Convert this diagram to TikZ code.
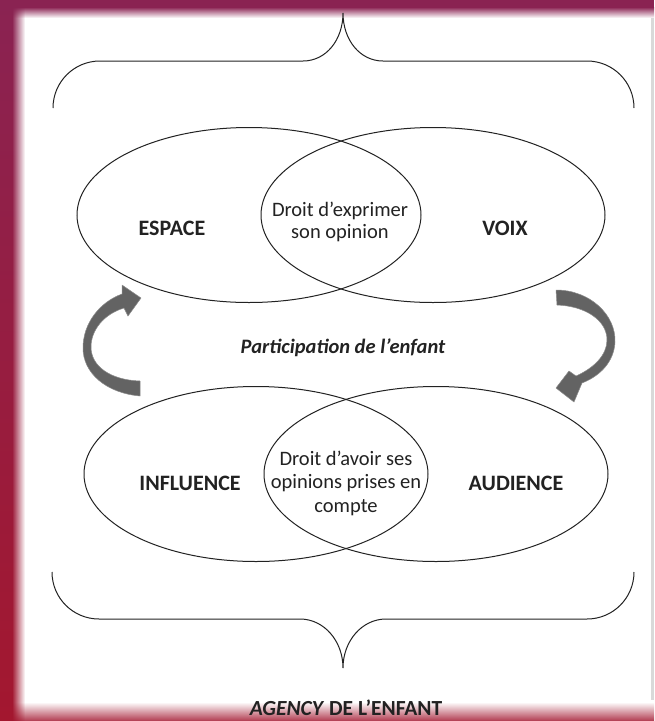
\documentclass[tikz,border=0pt]{standalone}
\usepackage{fontspec}
\setmainfont{Carlito}
\usetikzlibrary{shapes.geometric,fadings}
\definecolor{framea}{HTML}{8A2352}
\definecolor{frameb}{HTML}{A3172F}
\definecolor{ink}{HTML}{222222}
\definecolor{arrowfill}{HTML}{636363}
\definecolor{arrowedge}{HTML}{8C8C8C}
\tikzset{
  venn/.style={ellipse, draw=ink, line width=1pt, minimum width=344pt, minimum height=175pt, inner sep=0pt},
  bigword/.style={font=\bfseries\fontsize{22}{24}\selectfont, text=ink, inner sep=0pt},
  midtext/.style={font=\fontsize{20.5}{22}\selectfont, text=ink, align=center, inner sep=0pt},
  bracepath/.style={draw=ink, line width=1pt},
  cyclearrow/.style={fill=arrowfill, draw=arrowedge, line width=0.5pt, line join=round},
}
\begin{document}
\begin{tikzpicture}[x=1pt,y=-1pt]
\useasboundingbox (0,0) rectangle (654,721);
\fill[white] (0,0) rectangle (654,721);
% frame
\fill[framea] (0,0) rectangle (654,7);
\shade[top color=framea, bottom color=white] (0,7) rectangle (654,18);
\shade[top color=white, bottom color=frameb!85] (0,702) rectangle (654,721);
\shade[top color=framea, bottom color=frameb] (0,0) rectangle (12,721);
\shade[top color=framea, bottom color=frameb, path fading=east] (12,0) rectangle (25,721);
\fill[black!15] (651,18) rectangle (654,700);
% top brace
\coordinate (tl) at (53,108);
\coordinate (tt) at (343,13);
\coordinate (tr) at (634,108);
\draw[bracepath] (tl) .. controls (53,82) and (74,61) .. (100,61) -- (303,61)
  .. controls (326,61) and (343,40) .. (tt)
  .. controls (343,40) and (360,61) .. (383,61) -- (587,61)
  .. controls (613,61) and (634,82) .. (tr);
% bottom brace
\coordinate (bl) at (52,572);
\coordinate (bt) at (343,668);
\coordinate (br) at (634,572);
\draw[bracepath] (bl) .. controls (52,598) and (73,619) .. (99,619) -- (300,619)
  .. controls (324,619) and (343,641) .. (bt)
  .. controls (343,641) and (362,619) .. (386,619) -- (587,619)
  .. controls (613,619) and (634,598) .. (br);
% ellipses
\node[venn] (espace) at (249,215) {};
\node[venn] (voix) at (433,215) {};
\node[venn] (influence) at (256,474) {};
\node[venn] (audience) at (436,474) {};
% labels
\node[bigword] (lespace) at (172,228) {ESPACE};
\node[bigword] (lvoix) at (505,228) {VOIX};
\node[midtext] (exprimer) at (340,222) {Droit d’exprimer\\son opinion};
\node[bigword] (linfluence) at (190,483) {INFLUENCE};
\node[bigword] (laudience) at (516,483) {AUDIENCE};
\node[midtext, font=\fontsize{20.5}{23.5}\selectfont] (avoir) at (346,483) {Droit d’avoir ses\\opinions prises en\\compte};
\node[font=\bfseries\itshape\fontsize{20.5}{22}\selectfont, text=ink] (participation) at (343,348) {Participation de l’enfant};
\node[font=\bfseries\fontsize{21.5}{22}\selectfont, text=ink, inner sep=0pt, anchor=base] (agency) at (346,715) {\textit{AGENCY} DE L’ENFANT};
% cycle arrows
\fill[cyclearrow] (140,396) .. controls (106,393) and (83,373) .. (83,348)
  .. controls (83,323) and (100,302) .. (122,294) -- (122,285) -- (141,298)
  -- (128,316) -- (124,308) .. controls (104,314) and (91,330) .. (91,347)
  .. controls (91,366) and (110,380) .. (140,381) -- cycle;
\fill[cyclearrow] (556,290) .. controls (590,290) and (616,315) .. (615,342)
  .. controls (614,362) and (600,376) .. (582,383) -- (574,402) -- (556,388)
  -- (569,371) -- (576,376) .. controls (594,368) and (607,355) .. (607,340)
  .. controls (607,320) and (585,306) .. (557,305) -- cycle;
\end{tikzpicture}
\end{document}
